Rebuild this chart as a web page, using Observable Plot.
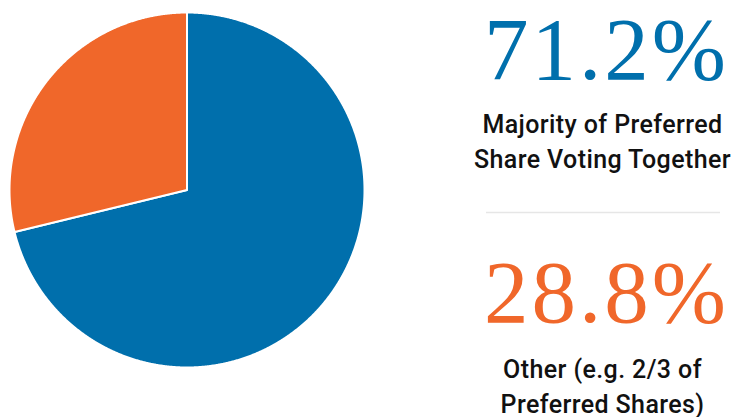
<!DOCTYPE html>
<html><head><meta charset="utf-8">
<script src="https://cdn.jsdelivr.net/npm/d3@7"></script>
<script src="https://cdn.jsdelivr.net/npm/@observablehq/plot@0.6"></script>
<style>html,body{margin:0;padding:0;background:#fff;} #chart{width:732px;height:417px;overflow:hidden}
.num text{letter-spacing:3px}
.lab text{letter-spacing:0.4px}</style>
</head><body><div id="chart"></div>
<script>
// ---- data ----
const categories = ["Majority of Preferred Share Voting Together", "Other (e.g. 2/3 of Preferred Shares)"];
const labelLines = ["Majority of Preferred\nShare Voting Together", "Other (e.g. 2/3 of\nPreferred Shares)"];
const shares = [71.2, 28.8];
const colors = ["#006fac", "#f0672a"];

// ---- layout ----
const W = 732, H = 417, CX = 186.5, CY = 189.5, R = 177.5;
const ux = p => (p - CX) / R, uy = p => (CY - p) / R;
const numY = [uy(78), uy(321)];
const labY = [uy(167), uy(412)];
const numX = ux(606), labX = ux(602);

// pie slice outlines in unit-circle coordinates (angles from data)
const total = d3.sum(shares);
let cum = 0;
const pts = [];
shares.forEach((v, i) => {
  const a0 = cum / total * 2 * Math.PI; cum += v; const a1 = cum / total * 2 * Math.PI;
  const n = Math.max(2, Math.ceil((a1 - a0) / (Math.PI / 720)));
  pts.push({name: categories[i], x: 0, y: 0});
  for (let k = 0; k <= n; k++) { const a = a0 + (a1 - a0) * k / n; pts.push({name: categories[i], x: Math.sin(a), y: Math.cos(a)}); }
  pts.push({name: categories[i], x: 0, y: 0});
});

const chart = Plot.plot({
  width: W, height: H, margin: 0,
  x: {axis: null, domain: [ux(0), ux(W)]},
  y: {axis: null, domain: [uy(H), uy(0)]},
  color: {domain: categories, range: colors},
  style: {background: "#fff"},
  marks: [
    Plot.line(pts, {x: "x", y: "y", z: "name", fill: "name", stroke: "white", strokeWidth: 2, strokeLinejoin: "round"}),
    Plot.ruleY([uy(212)], {x1: ux(486), x2: ux(720), stroke: "#e6e6e6", strokeWidth: 1.5}),
    Plot.text(categories, {x: numX, y: (d, i) => numY[i], text: (d, i) => shares[i].toFixed(1) + "%", fill: d => d,
      lineAnchor: "bottom", textAnchor: "middle", fontSize: 89, fontFamily: "'Liberation Serif', 'DejaVu Serif', serif", className: "num"}),
    Plot.text(labelLines, {x: labX, y: (d, i) => labY[i], text: d => d, fill: "#111",
      lineAnchor: "bottom", textAnchor: "middle", fontSize: 25, lineHeight: 35 / 25, fontFamily: "Roboto, sans-serif", fontWeight: 500, className: "lab"})
  ]
});
document.getElementById("chart").appendChild(chart);
</script></body></html>
